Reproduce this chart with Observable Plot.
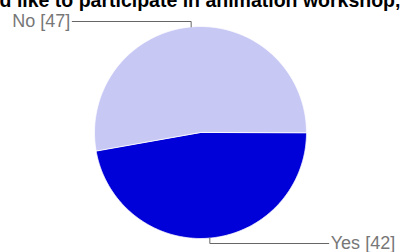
<!DOCTYPE html>
<html>
<head>
<meta charset="utf-8">
<script src="https://cdn.jsdelivr.net/npm/d3@7"></script>
<script src="https://cdn.jsdelivr.net/npm/@observablehq/plot@0.6"></script>
<style>
  html, body { margin: 0; padding: 0; background: #fff; }
  #chart svg { display: block; }
</style>
</head>
<body>
<div id="chart"></div>
<script>
// ---- data ----
const categories = ["Yes", "No"];
const counts = [42, 47];
const labels = ["Yes [42]", "No [47]"];
const colors = ["#0000d8", "#c8c8f5"];
const titleText = "d like to participate in animation workshop,";

// ---- layout ----
const W = 403, H = 252;
const cx = 200, cy = 132, R = 106; // pixel center / radius
const elbowPx = 5, leaderReach = 1.21;

const pie = d3.pie().sort(null).value(d => d.count)
  .startAngle(Math.PI / 2).endAngle(Math.PI / 2 + 2 * Math.PI);
const table = categories.map((c, i) => ({cat: c, count: counts[i], label: labels[i]}));
const arcs = pie(table);

// polygon points for each slice (geometry, in unit-radius coordinates)
const slicePts = [];
for (const a of arcs) {
  slicePts.push({cat: a.data.cat, x: 0, y: 0});
  const n = Math.max(2, Math.ceil((a.endAngle - a.startAngle) / 0.01));
  for (let k = 0; k <= n; k++) {
    const t = a.startAngle + (a.endAngle - a.startAngle) * k / n;
    slicePts.push({cat: a.data.cat, x: Math.sin(t), y: Math.cos(t)});
  }
}

// leader lines and label anchors
const leaderPts = [];
const labelPts = [];
for (const a of arcs) {
  const m = (a.startAngle + a.endAngle) / 2;
  const ex = Math.sin(m), ey = Math.cos(m);
  const side = ex >= 0 ? 1 : -1;
  const vy = ey >= 0 ? 1 : -1;
  const elbowY = vy * (1 + elbowPx / R);
  leaderPts.push({cat: a.data.cat, x: ex, y: ey});
  leaderPts.push({cat: a.data.cat, x: ex, y: elbowY});
  leaderPts.push({cat: a.data.cat, x: side * leaderReach, y: elbowY});
  labelPts.push({label: a.data.label, x: side * leaderReach, y: elbowY, side});
}

const chart = Plot.plot({
  width: W,
  height: H,
  margin: 0,
  style: {fontFamily: "'Liberation Sans', Arial, sans-serif", background: "#fff"},
  x: {domain: [-cx / R, (W - cx) / R], range: [0, W], axis: null},
  y: {domain: [-(H - cy) / R, cy / R], range: [H, 0], axis: null},
  color: {domain: categories, range: colors},
  marks: [
    Plot.line(slicePts, {x: "x", y: "y", z: "cat", fill: "cat", stroke: "#ffffff", strokeWidth: 0.8, curve: "linear-closed"}),
    Plot.line(leaderPts, {x: "x", y: "y", z: "cat", stroke: "#666666", strokeWidth: 1, curve: "linear"}),
    Plot.text(labelPts.filter(d => d.side > 0), {x: "x", y: "y", text: "label", textAnchor: "start", dx: 2, fontSize: 18, fill: "#777777"}),
    Plot.text(labelPts.filter(d => d.side < 0), {x: "x", y: "y", text: "label", textAnchor: "end", dx: -2, fontSize: 18, fill: "#777777"}),
    Plot.text([titleText], {frameAnchor: "top", lineAnchor: "bottom", dy: 6, dx: -2, fontSize: 19.5, fontWeight: "bold", fill: "#000"})
  ]
});
document.getElementById("chart").appendChild(chart);
</script>
</body>
</html>
